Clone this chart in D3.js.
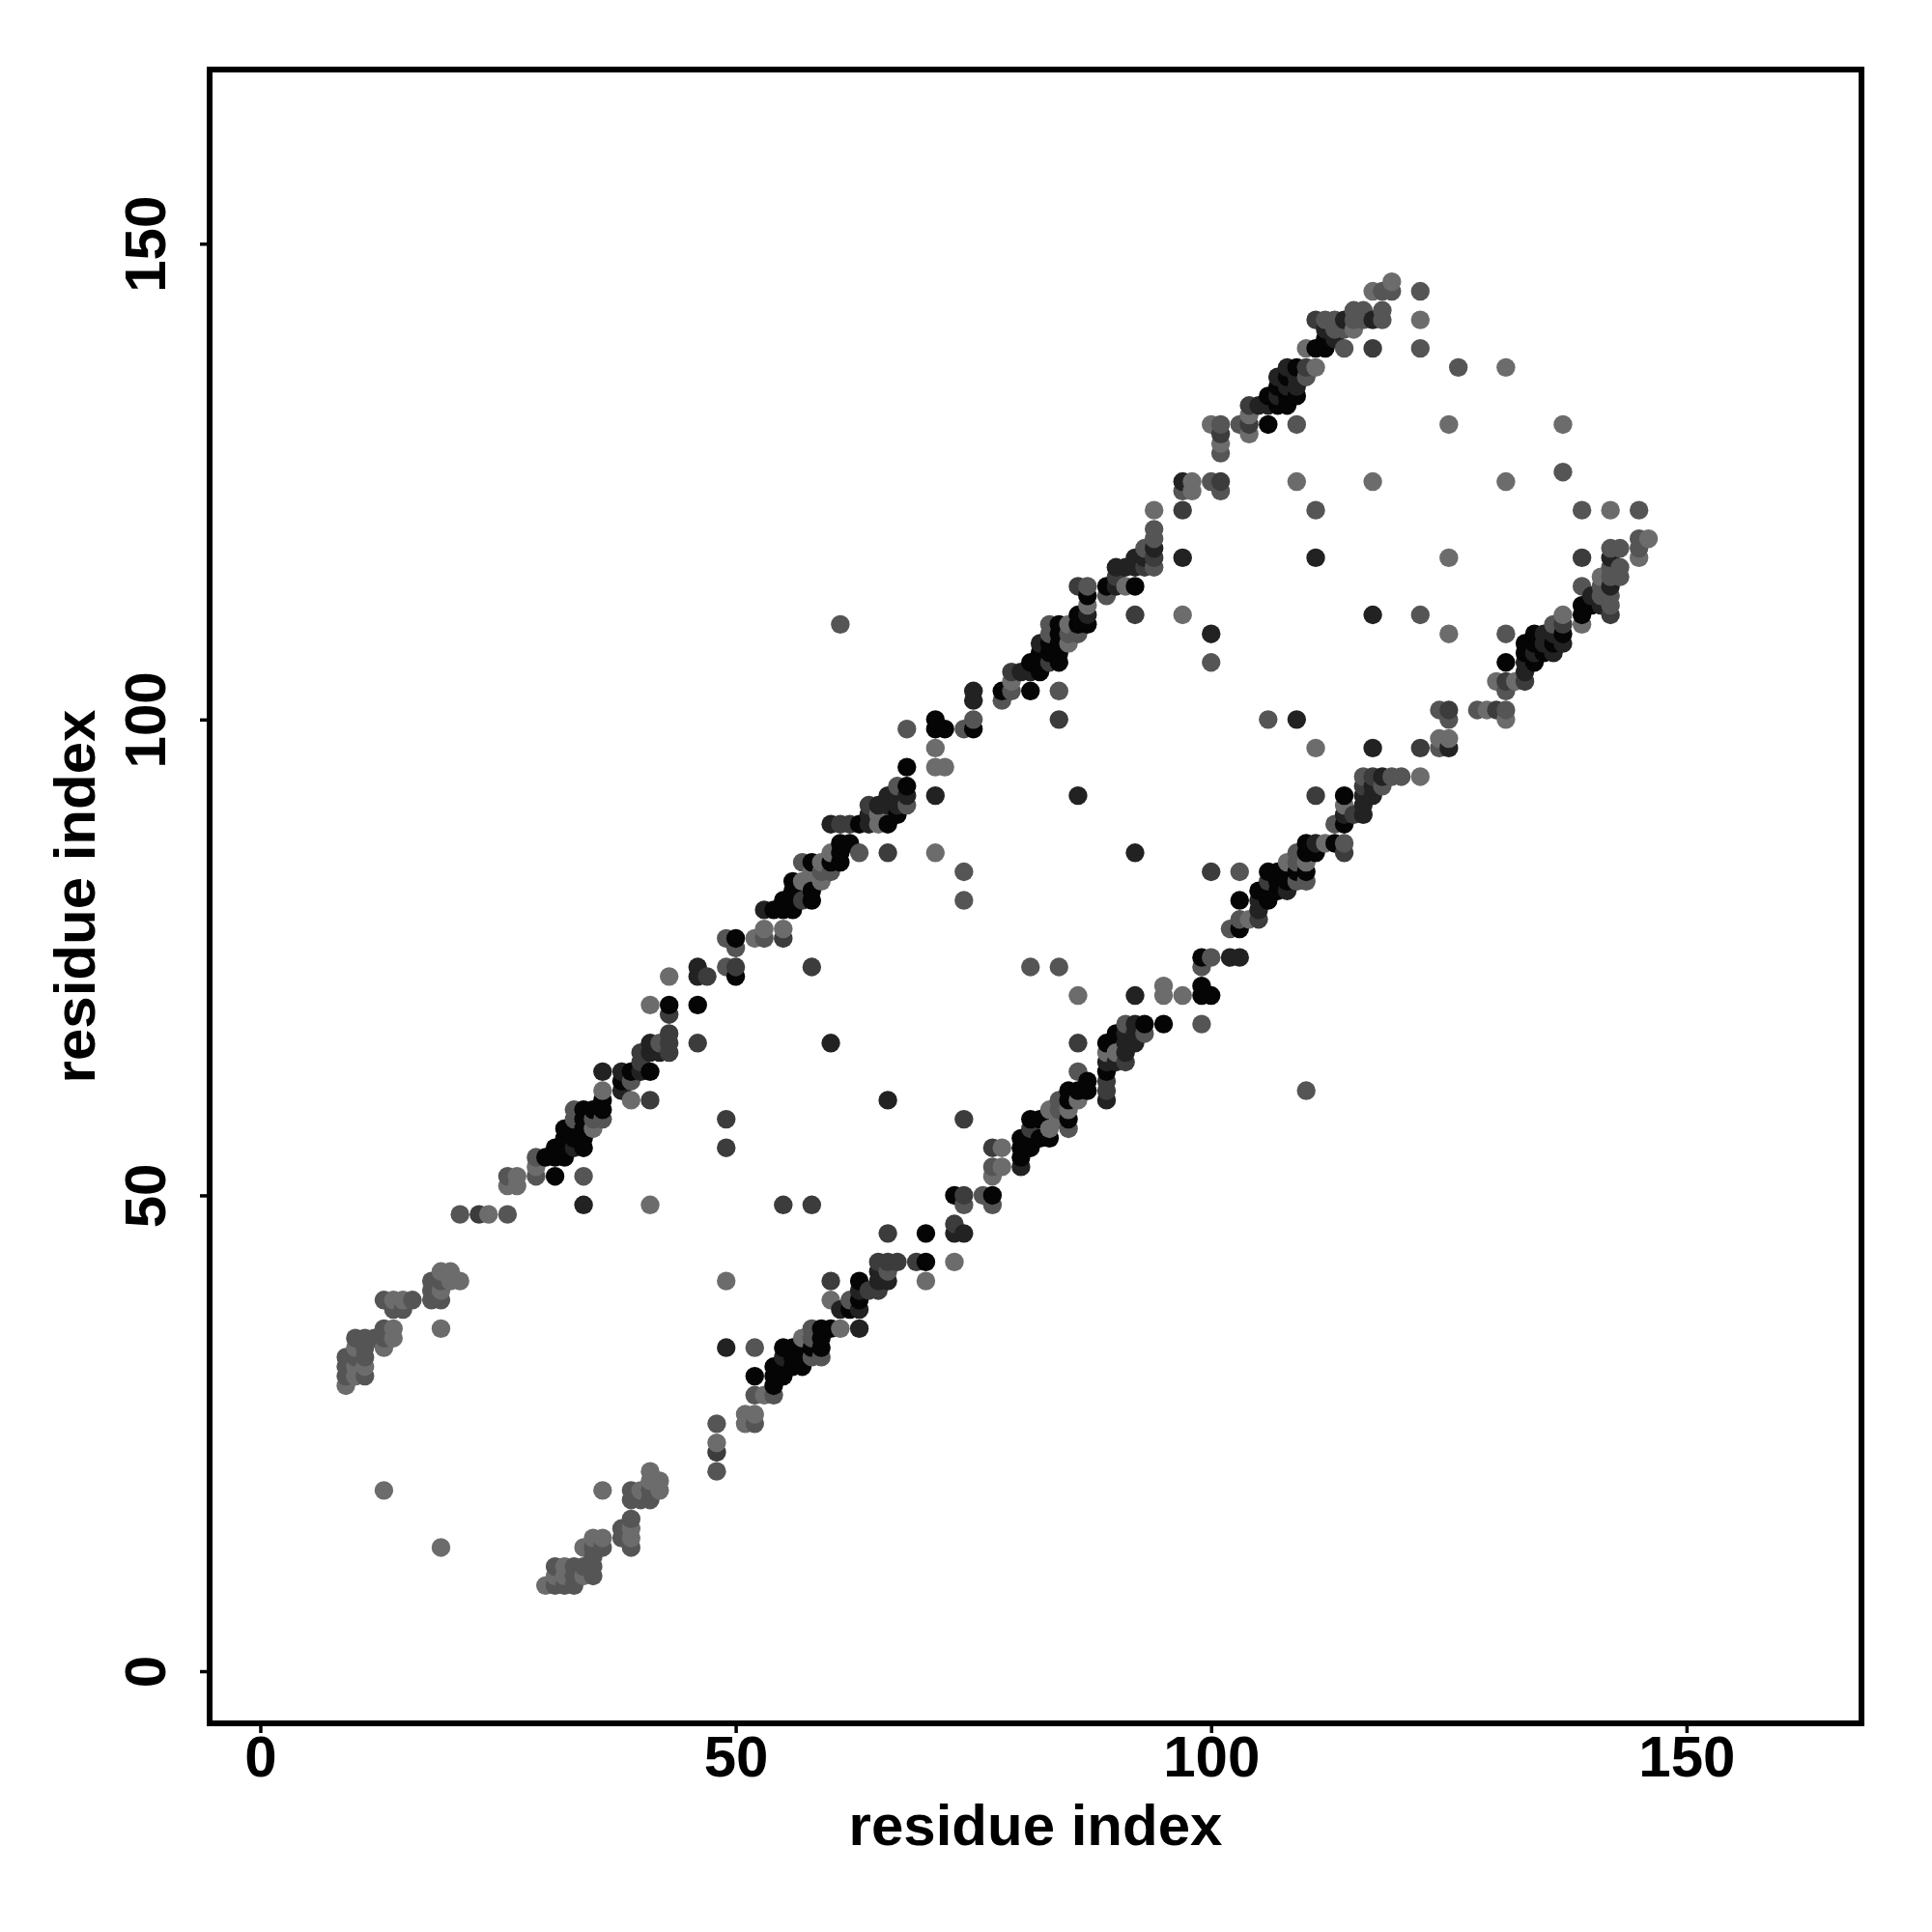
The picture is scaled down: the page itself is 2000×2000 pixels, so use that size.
<!DOCTYPE html>
<html><head><meta charset="utf-8">
<script src="https://cdnjs.cloudflare.com/ajax/libs/d3/7.8.5/d3.min.js"></script>
<style>html,body{margin:0;padding:0;background:#fff}svg{display:block}text{font-family:"Liberation Sans",Arial,sans-serif;font-weight:700;fill:#000}</style>
</head><body><script>
const axisTicks=[0,50,100,150];
const axisLabel="residue index";
// residue contacts [i,j], i<j, grouped by contact strength class (the map is symmetric)
const contactsBlack=[[30,54],[31,52],[31,54],[31,55],[32,54],[32,55],[32,56],[32,57],[33,56],[33,57],[34,55],[34,56],[34,57],[34,58],[34,59],[35,59],[36,59],[36,60],[38,62],[39,63],[41,63],[43,70],[46,70],[50,73],[50,77],[54,80],[55,80],[55,81],[56,80],[56,81],[56,82],[56,83],[58,81],[58,82],[58,85],[60,85],[61,85],[61,86],[61,87],[62,87],[63,89],[66,89],[67,90],[68,93],[68,95],[71,99],[71,100],[72,99],[75,99],[78,103],[81,103],[81,106],[82,105],[82,106],[82,107],[83,107],[83,108],[84,106],[84,107],[84,108],[84,109],[84,110],[86,110],[86,111],[87,110],[87,113],[89,114],[92,114],[106,131],[106,134],[107,133],[107,135],[108,133],[108,134],[108,136],[109,134],[109,137],[111,139],[112,139],[112,140]];
const contactsDark=[[33,55],[34,49],[36,63],[38,61],[38,63],[40,63],[41,65],[41,66],[42,65],[46,73],[46,74],[53,80],[60,66],[60,89],[64,89],[64,90],[65,91],[66,91],[66,92],[67,91],[67,92],[68,92],[71,92],[75,102],[75,103],[80,105],[81,105],[82,108],[86,92],[87,111],[90,114],[90,116],[91,116],[92,116],[92,117],[93,117],[94,118],[97,117],[97,125],[100,109],[105,133],[106,133],[107,134],[107,136],[108,135],[108,137],[109,135],[109,136],[111,117],[112,141],[113,140],[114,142],[117,142]];
const contactsDarkMid=[[23,48],[40,64],[40,65],[41,60],[43,65],[43,66],[43,67],[43,69],[46,66],[47,73],[49,55],[49,58],[50,74],[55,77],[57,81],[58,74],[61,89],[62,89],[64,91],[66,86],[79,105],[83,106],[84,100],[86,114],[90,115],[92,111],[93,116],[94,117],[97,122],[101,125],[101,130],[104,131],[104,133],[110,137],[111,142],[117,139]];
const contactsMid=[[9,31],[9,32],[9,33],[10,33],[10,35],[11,31],[11,33],[11,34],[11,35],[12,35],[13,35],[13,36],[13,39],[14,38],[15,38],[16,39],[18,39],[18,40],[18,41],[19,39],[19,41],[21,48],[26,48],[26,52],[29,52],[29,54],[33,58],[33,59],[34,52],[35,58],[36,58],[39,62],[42,66],[49,74],[49,77],[50,76],[53,77],[57,85],[59,84],[60,84],[61,110],[63,86],[67,93],[68,91],[68,99],[74,81],[74,84],[74,99],[75,100],[78,102],[79,103],[83,109],[83,110],[84,103],[85,109],[86,109],[87,114],[89,113],[93,118],[94,116],[94,119],[94,120],[97,124],[100,106],[100,125],[101,124],[101,128],[101,131],[103,131],[109,131],[110,136],[111,122],[112,142],[113,141],[113,142],[114,139],[114,141],[115,142],[115,143],[116,142],[116,143],[118,142],[118,143],[118,145],[119,145],[122,139],[122,145],[126,137]];
const contactsLight=[[9,30],[10,31],[10,32],[10,34],[11,32],[13,19],[13,34],[14,35],[14,36],[14,39],[15,39],[19,36],[19,40],[19,42],[20,41],[20,42],[21,41],[24,48],[26,51],[27,51],[27,52],[29,53],[35,57],[36,61],[39,60],[41,49],[41,70],[43,73],[52,77],[53,78],[55,78],[57,83],[58,84],[59,83],[59,85],[60,86],[65,89],[65,90],[71,86],[71,95],[71,97],[72,95],[79,104],[85,108],[85,110],[87,112],[91,114],[94,122],[97,111],[98,124],[98,125],[100,131],[101,129],[104,130],[104,132],[109,125],[110,139],[111,137],[115,141],[117,125],[117,145],[119,146],[122,142],[125,131],[131,137]];
const strengthClasses=[
 {pairs:contactsLight,level:0},{pairs:contactsMid,level:1},{pairs:contactsDarkMid,level:2},
 {pairs:contactsDark,level:3},{pairs:contactsBlack,level:4}];

const svg=d3.select("body").append("svg").attr("width",2000).attr("height",2000);
const x=d3.scaleLinear().domain([-5.33,168.4]).range([217,1927]);
const y=d3.scaleLinear().domain([-5.48,168.3]).range([1784,72]);
const grey=d3.scaleLinear().domain([0,1,2,3,4]).range(["#6c6c6c","#555555","#3c3c3c","#222222","#050505"]);

const points=[];
strengthClasses.forEach(c=>c.pairs.forEach(([i,j])=>{
  points.push({a:i,b:j,s:c.level});points.push({a:j,b:i,s:c.level});
}));
points.sort((p,q)=>d3.ascending(p.a,q.a)||d3.ascending(p.b,q.b));

svg.append("g").selectAll("circle").data(points).join("circle")
  .attr("cx",d=>x(d.a)).attr("cy",d=>y(d.b)).attr("r",9.7).attr("fill",d=>grey(d.s));

svg.append("rect").attr("x",x.range()[0]).attr("y",y.range()[1])
  .attr("width",x.range()[1]-x.range()[0]).attr("height",y.range()[0]-y.range()[1])
  .attr("fill","none").attr("stroke","#000").attr("stroke-width",6);

const gx=svg.append("g").attr("transform",`translate(0,${y.range()[0]})`)
  .call(d3.axisBottom(x).tickValues(axisTicks).tickSize(10).tickPadding(0));
gx.select(".domain").remove();
gx.selectAll(".tick line").attr("stroke","#000").attr("stroke-width",3.5);
gx.selectAll(".tick text").attr("y",0).attr("dy",0).attr("transform","translate(0,55)")
  .attr("text-anchor","middle").style("font-size","60px");

const gy=svg.append("g").attr("transform",`translate(${x.range()[0]},0)`)
  .call(d3.axisLeft(y).tickValues(axisTicks).tickSize(10).tickPadding(0));
gy.select(".domain").remove();
gy.selectAll(".tick line").attr("stroke","#000").attr("stroke-width",3.5);
gy.selectAll(".tick text").attr("x",0).attr("dy",0).attr("y",0)
  .attr("transform","translate(-46,0) rotate(-90)")
  .attr("text-anchor","middle").style("font-size","60px");

svg.append("text").attr("x",1072).attr("y",1910).attr("text-anchor","middle")
  .style("font-size","60px").text(axisLabel);
svg.append("text").attr("transform","translate(98,928) rotate(-90)").attr("text-anchor","middle")
  .style("font-size","60px").text(axisLabel);
</script></body></html>
